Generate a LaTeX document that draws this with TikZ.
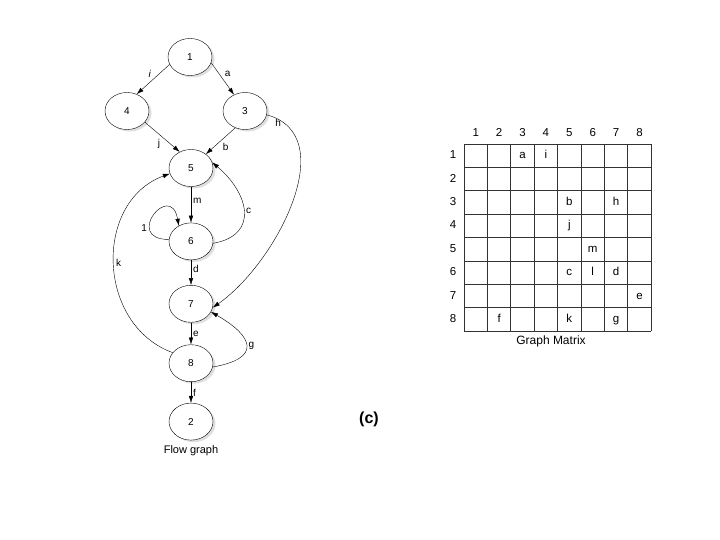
\documentclass[tikz,border=0pt]{standalone}
\usepackage{fontspec}
\setmainfont{Liberation Sans}
\usetikzlibrary{shapes,arrows,arrows.meta,shadows,positioning,calc}

\tikzset{
  vert/.style={
    draw,
    ellipse,
    thin,
    fill=white,
    minimum width=44pt,
    minimum height=37pt,
    inner sep=0pt,
    font=\fontsize{10}{12}\selectfont,
    drop shadow={shadow xshift=2.5pt,shadow yshift=-2pt,fill=black!25},
  },
  flow/.style={-{Latex[length=7pt,width=4.5pt]},thin},
  lab/.style={font=\fontsize{10}{12}\selectfont,inner sep=2pt},
  cell/.style={font=\fontsize{11.5}{13}\selectfont,text height=8pt,text depth=2pt},
  grid line/.style={line width=0.7pt,black!80},
}

\begin{document}
\begin{tikzpicture}[x=1pt,y=1pt]
        \useasboundingbox (0,0) rectangle (720,-540);

        % flow graph
        \node (v1) [vert] at (190,-57) {1};
        \node (v4) [vert] at (127,-111) {4};
        \node (v3) [vert] at (245,-111) {3};
        \node (v5) [vert] at (191,-168) {5};
        \node (v6) [vert,below=36pt of v5] {6};
        \node (v7) [vert,below=25pt of v6] {7};
        \node (v8) [vert,below=22pt of v7] {8};
        \node (v2) [vert,below=21pt of v8] {2};

        \node (flowcap) [below=2pt of v2,font=\fontsize{11}{13}\selectfont] {Flow graph};

        \draw[flow] (v1.200) -- node[lab,above left] {\textit{i}} (v4.60);
        \draw[flow] (v1.345) -- node[lab,above right] {a} (v3.124);
        \draw[flow] (v4.328) -- node[lab,below left] {j} (v5.125);
        \draw[flow] (v3.240) -- node[lab,below right] {b} (v5.43);
        \draw[flow] (v3.-10) to[out=-15,in=35] node[lab,pos=0.03,below right] {h} (v7.-10);
        \draw[flow] (v5) -- node[lab,right,pos=0.4] {m} (v6);
        \draw[flow] (v6.-5) to[out=10,in=-40,looseness=1.5] node[lab,right] {c} (v5.15);
        \draw[flow] (v6.175) to[out=180,in=100,looseness=7] node[lab,left,pos=0.3] {1} (v6.128);
        \draw[flow] (v6) -- node[lab,right,pos=0.35] {d} (v7);
        \draw[flow] (v7) -- node[lab,right] {e} (v8);
        \draw[flow] (v8.-10) to[out=10,in=-30,looseness=2.3] node[lab,right] {g} (v7.-22);
        \draw[flow] (v8.150) to[out=160,in=200,looseness=1.16] node[lab,right] {k} (v5.195);
        \draw[flow] (v8) -- node[lab,right] {f} (v2);

        \node (tag) at (369,-419) {\fontsize{16}{18}\selectfont\bfseries (c)};

        % graph matrix
        \foreach \i in {0,...,8} {
          \draw[grid line] (464+\i*23.4,-144) -- (464+\i*23.4,-331.2);
          \draw[grid line] (464,-144-\i*23.4) -- (651.2,-144-\i*23.4);
        }
        \foreach \i in {1,...,8} {
          \node[cell] (col\i) at (464+\i*23.4-11.7,-134) {\i};
          \node[cell] (row\i) at (453,-144-\i*23.4+11.7) {\i};
        }
        \foreach \r/\c/\t in {1/3/a,1/4/i,3/5/b,3/7/h,4/5/j,5/6/m,6/5/c,6/6/l,6/7/d,7/8/e,8/2/f,8/5/k,8/7/g} {
          \node[cell] (cell\r\c) at (464+\c*23.4-11.7,-144-\r*23.4+11.7) {\t};
        }
        \node (gmcap) [font=\fontsize{12}{14}\selectfont] at (551,-341) {Graph Matrix};
\end{tikzpicture}
\end{document}
